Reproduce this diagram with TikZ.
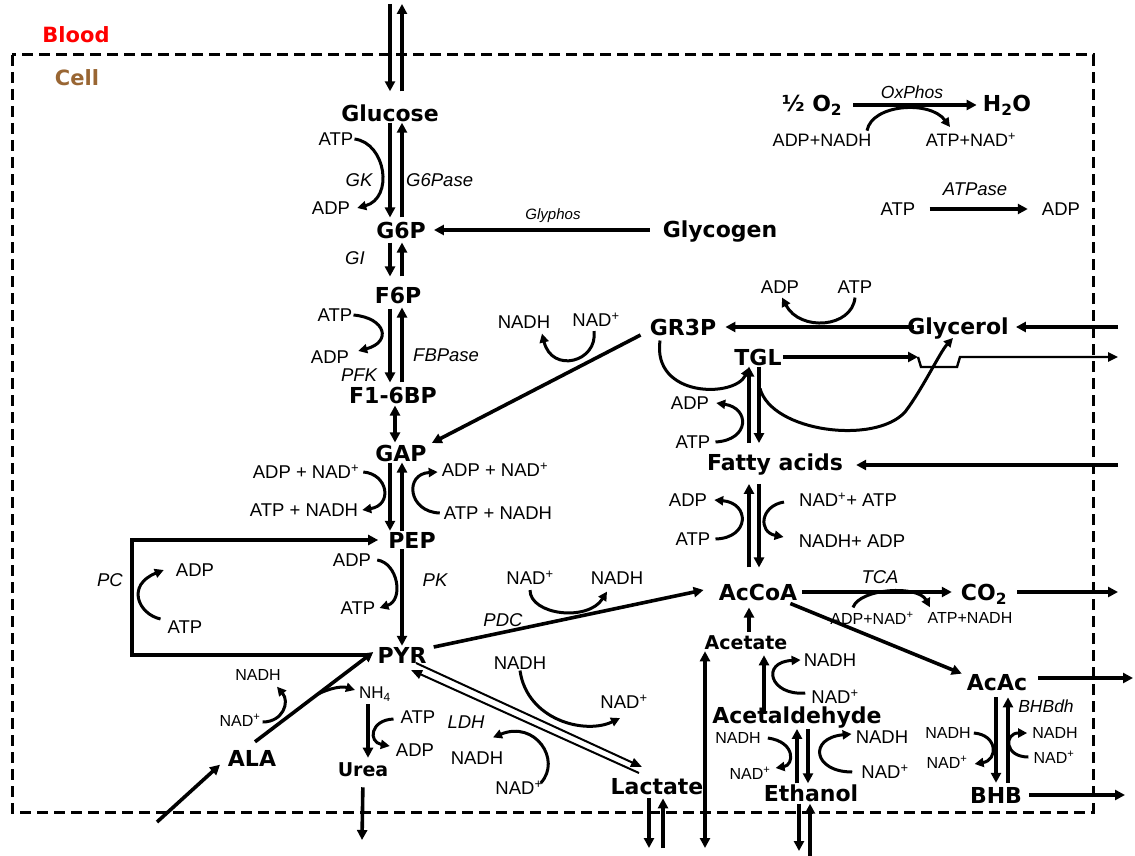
\documentclass[tikz,border=0pt]{standalone}
\usepackage{fontspec}
\setmainfont{Liberation Sans}
\newfontfamily\metf{DejaVu Sans}
\usetikzlibrary{arrows.meta,calc}
\definecolor{cellbrown}{RGB}{153,102,51}
\tikzset{
 met/.style={font=\metf\bfseries\fontsize{22}{22}\selectfont, inner sep=1pt},
 metsm/.style={font=\metf\bfseries\fontsize{19}{19}\selectfont, inner sep=1pt},
 lab/.style={font=\fontsize{18.5}{18.5}\selectfont, inner sep=1pt},
 mid/.style={font=\fontsize{18}{18}\selectfont, inner sep=1pt},
 sm/.style={font=\fontsize{16}{16}\selectfont, inner sep=1pt},
 enz/.style={font=\itshape\fontsize{18.5}{18.5}\selectfont, inner sep=1pt},
 enzmid/.style={font=\itshape\fontsize{17.5}{17.5}\selectfont, inner sep=1pt},
 enzsm/.style={font=\itshape\fontsize{15}{15}\selectfont, inner sep=1pt},
 ar/.style={line width=3.6pt, -{Triangle[length=10pt,width=10pt]}},
 artwo/.style={line width=3.6pt, {Triangle[length=10pt,width=10pt]}-{Triangle[length=10pt,width=10pt]}},
 cv/.style={line width=3pt, -{Triangle[length=9pt,width=9pt]}},
 dl/.style={line width=2pt, -{Triangle[length=11pt,width=9pt]}},
 border/.style={line width=3pt, dash pattern=on 11pt off 6pt}
}
\begin{document}
\begin{tikzpicture}[x=1pt,y=-1pt]
\useasboundingbox (0,0) rectangle (1135,856);
\fill[white] (0,0) rectangle (1135,856);
\draw[border] (12,55) rectangle (1093,812);

% ---------- nodes ----------
\node[met,text=red,font=\metf\bfseries\fontsize{21}{21}\selectfont] (blood) at (76,35) {Blood};
\node[met,text=cellbrown,font=\metf\bfseries\fontsize{21}{21}\selectfont] (cell) at (77,78) {Cell};

\node[met] (glc) at (390,113) {Glucose};
\node[met] (g6p) at (401,230) {G6P};
\node[met] (glyc) at (720,232) {Glycogen};
\node[met] (f6p) at (398,296) {F6P};
\node[met] (fbp) at (393,395) {F1-6BP};
\node[met] (gap) at (401,453) {GAP};
\node[met] (pep) at (412,540) {PEP};
\node[met] (pyr) at (402,655) {PYR};
\node[met] (ala) at (252,758) {ALA};
\node[metsm] (urea) at (363,770) {Urea};
\node[met] (lac) at (657,787) {Lactate};
\node[met] (gr3p) at (683,327) {GR3P};
\node[met] (glol) at (958,329) {Glycerol};
\node[met] (tgl) at (758,357) {TGL};
\node[met] (fa) at (775,465) {Fatty acids};
\node[met] (accoa) at (758,592) {AcCoA};
\node[met] (co2) at (984,594) {CO\textsubscript{2}};
\node[met] (acac) at (997,683) {AcAc};
\node[met] (bhb) at (996,795) {BHB};
\node[metsm] (acet) at (746,643) {Acetate};
\node[met] (acald) at (797,718) {Acetaldehyde};
\node[met] (etoh) at (811,793) {Ethanol};
\node[met] (o2) at (812,105) {½ O\textsubscript{2}};
\node[met] (h2o) at (1007,105) {H\textsubscript{2}O};

\node[lab] (atp1) at (336,139) {ATP};
\node[enz] (gk) at (359,180) {GK};
\node[lab] (adp1) at (331,208) {ADP};
\node[enz,anchor=west] (g6pase) at (405,180) {G6Pase};
\node[enzsm] (glyphos) at (553,216) {Glyphos};
\node[enz] (gi) at (355,258) {GI};
\node[lab] (atp2) at (335,315) {ATP};
\node[lab] (adp2) at (330,357) {ADP};
\node[enz] (pfk) at (359,375) {PFK};
\node[enz,anchor=west] (fbpase) at (412,355) {FBPase};
\node[lab] (adpnad1) at (306,472) {ADP + NAD\textsuperscript{+}};
\node[lab] (atpnadh1) at (304,510) {ATP + NADH};
\node[lab] (adpnad2) at (495,470) {ADP + NAD\textsuperscript{+}};
\node[lab] (atpnadh2) at (498,513) {ATP + NADH};
\node[enz] (pc) at (110,580) {PC};
\node[lab] (adp3) at (195,570) {ADP};
\node[lab] (atp3) at (185,627) {ATP};
\node[lab] (adp4) at (352,560) {ADP};
\node[lab] (atp4) at (358,608) {ATP};
\node[enz] (pk) at (435,580) {PK};
\node[lab] (nad5) at (530,578) {NAD\textsuperscript{+}};
\node[lab] (nadh5) at (617,578) {NADH};
\node[enz] (pdc) at (503,620) {PDC};
\node[lab] (nadh6) at (520,663) {NADH};
\node[lab] (nad6) at (624,702) {NAD\textsuperscript{+}};
\node[enz] (ldh) at (466,722) {LDH};
\node[lab] (nadh7) at (477,758) {NADH};
\node[lab] (nad7) at (519,788) {NAD\textsuperscript{+}};
\node[sm] (nadh8) at (258,675) {NADH};
\node[sm] (nad8) at (240,720) {NAD\textsuperscript{+}};
\node[font=\fontsize{17}{17}\selectfont,inner sep=1pt] (nh4) at (375,694) {NH\textsubscript{4}};
\node[lab] (atp9) at (418,717) {ATP};
\node[lab] (adp9) at (415,750) {ADP};
\node[enzmid] (oxphos) at (912,92) {OxPhos};
\node[mid] (adpnadh) at (822,140) {ADP+NADH};
\node[mid] (atpnad) at (971,140) {ATP+NAD\textsuperscript{+}};
\node[enz] (atpase) at (975,189) {ATPase};
\node[lab] (atp10) at (898,209) {ATP};
\node[lab] (adp10) at (1061,209) {ADP};
\node[lab] (adp11) at (780,287) {ADP};
\node[lab] (atp11) at (855,287) {ATP};
\node[lab] (nadh12) at (524,322) {NADH};
\node[lab] (nad12) at (596,320) {NAD\textsuperscript{+}};
\node[lab] (adp13) at (690,403) {ADP};
\node[lab] (atp13) at (693,442) {ATP};
\node[lab] (adp14) at (688,500) {ADP};
\node[lab] (atp14) at (693,539) {ATP};
\node[lab] (nadatp) at (848,500) {NAD\textsuperscript{+}+ ATP};
\node[lab] (nadhadp) at (852,541) {NADH+ ADP};
\node[enz] (tca) at (880,577) {TCA};
\node[sm] (adpnad15) at (872,618) {ADP+NAD\textsuperscript{+}};
\node[sm] (atpnadh15) at (970,618) {ATP+NADH};
\node[lab] (nadh16) at (830,660) {NADH};
\node[lab] (nad16) at (835,697) {NAD\textsuperscript{+}};
\node[sm] (nadh17) at (738,738) {NADH};
\node[sm] (nad17) at (750,773) {NAD\textsuperscript{+}};
\node[lab] (nadh18) at (882,737) {NADH};
\node[lab] (nad18) at (885,772) {NAD\textsuperscript{+}};
\node[enzmid] (bhbdh) at (1046,706) {BHBdh};
\node[sm] (nadh19) at (948,733) {NADH};
\node[sm] (nad19) at (947,762) {NAD\textsuperscript{+}};
\node[sm] (nadh20) at (1055,733) {NADH};
\node[sm] (nad20) at (1054,757) {NAD\textsuperscript{+}};

% ---------- helper coordinates ----------
\coordinate (xa) at (390,0); \coordinate (xb) at (402,0); \coordinate (xm) at (395,0);
\coordinate (bt1) at (390,4); \coordinate (bt2) at (402,4);
\coordinate (pcl) at (132,0);
\coordinate (alain) at (157,822);
\coordinate (xu) at (368,0);
\coordinate (ureaout) at (362,840);
\coordinate (lx1) at (649,0); \coordinate (lx2) at (663,0);
\coordinate (lb1) at (649,848); \coordinate (lb2) at (663,848);
\coordinate (xl) at (705,0); \coordinate (acbot) at (705,848);
\coordinate (xac) at (749,0); \coordinate (xald) at (764,0);
\coordinate (xe1) at (797,0); \coordinate (xe2) at (808,0);
\coordinate (eb1) at (799,851); \coordinate (eb2) at (810,856);
\coordinate (xe3) at (799,0); \coordinate (xe4) at (810,0);
\coordinate (gbl) at (1118,327);
\coordinate (bump1) at (918,357); \coordinate (tglout) at (1118,357);
\coordinate (xt1) at (749,0); \coordinate (xt2) at (759,0);
\coordinate (fabl) at (1118,465);
\coordinate (co2out) at (1118,592);
\coordinate (acacout) at (1133,678);
\coordinate (xk1) at (996,0); \coordinate (xk2) at (1008,0);
\coordinate (bhbout) at (1125,795);

% ---------- glycolysis column ----------
\draw[ar,shorten >=12pt] (bt1) -- (glc.north -| xa);
\draw[ar,shorten <=12pt] (glc.north -| xb) -- (bt2);
\draw[ar,shorten >=3pt] (glc.south -| xa) -- (g6p.north -| xa);
\draw[ar,shorten <=3pt] (g6p.north -| xb) -- (glc.south -| xb);
\draw[cv] (atp1.east) .. controls (386,143) and (394,198) .. ($(adp1.east)+(6,0)$);

\draw[ar,shorten <=12pt,shorten >=7pt] (glyc.west |- g6p) -- (g6p.east);

\draw[ar,shorten <=3pt,shorten >=10pt] (g6p.south -| xa) -- (f6p.north -| xa);
\draw[ar,shorten <=10pt,shorten >=3pt] (f6p.north -| xb) -- (g6p.south -| xb);

\draw[ar,shorten <=3pt,shorten >=3pt] (f6p.south -| xa) -- (fbp.north -| xa);
\draw[ar,shorten <=3pt,shorten >=2pt] (fbp.north -| xb) -- (f6p.south -| xb);
\draw[cv] (atp2.east) .. controls (386,318) and (392,342) .. ($(adp2.east)+(8,-6)$);

\draw[artwo,shorten <=1pt,shorten >=1pt] (fbp.south -| xm) -- (gap.north -| xm);

\draw[ar] (gap.south -| xa) -- (pep.north -| xa);
\draw[ar] (pep.north -| xb) -- (gap.south -| xb);
\draw[cv] ($(adpnad1.east)+(3,0)$) .. controls (388,474) and (393,505) .. ($(atpnadh1.east)+(3,0)$);
\draw[cv] ($(atpnadh2.west)+(-3,0)$) .. controls (408,512) and (404,474) .. ($(adpnad2.west)+(-3,2)$);

% PC loop
\draw[ar,shorten <=6pt,shorten >=9pt] (pyr.west) -- (pcl |- pyr) -- (pcl |- pep) -- (pep.west);
\draw[cv] ($(atp3.west)+(-6,-8)$) .. controls (138,614) and (126,585) .. ($(adp3.west)+(-11,0)$);

\draw[ar] (pep.south -| xb) -- (pyr.north -| xb);
\draw[cv] ($(adp4.east)+(5,0)$) .. controls (398,563) and (404,600) .. ($(atp4.east)+(3,0)$);

% PDC
\draw[ar] ($(pyr.east)+(6,-8)$) -- ($(accoa.west)+(-14,-2)$);
\draw[cv] ($(nad5.south)+(0,4)$) .. controls (530,615) and (588,622) .. ($(nadh5.south)+(-10,6)$);

% PYR <-> Lactate
\draw[dl] ($(pyr.center)+(14,8)$) -- ($(lac.center)+(-15,-20)$);
\draw[dl] ($(lac.center)+(-18,-14)$) -- ($(pyr.center)+(9,15)$);
\draw[cv] (nadh6.south) .. controls (527,720) and (585,735) .. ($(nad6.south)+(-4,8)$);
\draw[cv] ($(nad7.east)+(-3,-5)$) .. controls (562,760) and (535,720) .. ($(nadh7.north)+(16,-13)$);

% ALA
\coordinate (alaS) at ($(ala.north)+(3,-7)$);
\coordinate (pyrS) at ($(pyr.west)+(-3,-3)$);
\draw[ar,shorten >=1pt] (alain) -- ($(ala.west)+(-6,6)$);
\draw[ar] (alaS) -- (pyrS);
\draw[cv] ($(nad8.east)+(1,2)$) .. controls (283,722) and (290,702) .. ($(nadh8.south)+(19,5)$);
\draw[cv] ($(alaS)!0.53!(pyrS)$) .. controls (330,688) and (342,686) .. ($(nh4.west)+(-3,-4)$);
\draw[ar,shorten <=2pt,shorten >=4pt] (nh4.south -| xu) -- (urea.north -| xu);
\draw[cv] ($(atp9.west)+(-6,2)$) .. controls (370,720) and (368,742) .. ($(adp9.west)+(-5,-4)$);
\draw[ar,shorten <=9pt] (urea.south) -- (ureaout);

% Lactate exchange
\draw[ar,shorten <=2pt] (lac.south -| lx1) -- (lb1);
\draw[ar,shorten >=2pt] (lb2) -- (lac.south -| lx2);

% Acetate / ethanol
\draw[artwo] (acbot) -- (acet.south -| xl);
\draw[ar,shorten <=3pt,shorten >=6pt] (acet.north -| xac) -- (accoa.south -| xac);
\draw[ar,shorten <=-8pt,shorten >=4pt] (acald.north -| xald) -- (acet.south -| xald);
\draw[cv] ($(nad16.west)+(-5,-4)$) .. controls (770,696) and (760,662) .. ($(nadh16.west)+(-2,0)$);
\draw[ar,shorten >=-1pt] (etoh.north -| xe1) -- (acald.south -| xe1);
\draw[ar,shorten <=-1pt] (acald.south -| xe2) -- (etoh.north -| xe2);
\draw[cv] ($(nadh17.east)+(6,0)$) .. controls (796,742) and (794,765) .. ($(nad17.east)+(4,-5)$);
\draw[cv] ($(nad18.west)+(-8,0)$) .. controls (813,772) and (808,738) .. ($(nadh18.west)+(-3,-3)$);
\draw[ar,shorten <=1pt] (etoh.south -| xe3) -- (eb1);
\draw[ar,shorten >=1pt] (eb2) -- (etoh.south -| xe4);

% Glycerol / GR3P / TGL
\draw[ar,shorten <=-8pt,shorten >=8pt] (glol.west |- gr3p) -- (gr3p.east);
\draw[cv] ($(atp11.south)+(0,3)$) .. controls (852,328) and (800,332) .. ($(adp11.south)+(2,3)$);
\draw[ar,shorten >=6pt] (gbl) -- (glol.east |- gr3p);
\draw[ar] ($(gr3p.west)+(-8,8)$) -- ($(gap.east)+(4,-10)$);
\draw[cv] ($(nad12.south)+(-2,3)$) .. controls (598,362) and (552,374) .. ($(nadh12.south)+(18,4)$);
\draw[cv] ($(gr3p.south)+(-23,4)$) .. controls (652,398) and (735,398) .. ($(tgl.south -| xt1)+(0,1)$);
\draw[ar] (tgl.east) -- (bump1);
\draw[line width=2.4pt, -{Triangle[length=10pt,width=9pt]}] (bump1) -- ++(3,10) -- ++(36,0) -- ++(3,-10) -- (tglout);
\draw[ar,shorten <=10pt] (fa.north -| xt1) -- (tgl.south -| xt1);
\draw[ar,shorten >=10pt] (tgl.south -| xt2) -- (fa.north -| xt2);
\draw[cv] ($(atp13.east)+(4,0)$) .. controls (750,440) and (750,408) .. ($(adp13.east)+(6,0)$);
\draw[cv] ($(tgl.south -| xt2)+(1,22)$) .. controls (772,432) and (875,445) .. (905,412) .. controls (922,390) and (940,352) .. ($(glol.south)+(-5,-3)$);
\draw[ar,shorten >=12pt] (fabl) -- (fa.east);

% Fatty acids <-> AcCoA
\draw[ar,shorten <=15pt,shorten >=7pt] (accoa.north -| xt1) -- (fa.south -| xt1);
\draw[ar,shorten <=7pt,shorten >=15pt] (fa.south -| xt2) -- (accoa.north -| xt2);
\draw[cv] ($(atp14.east)+(4,0)$) .. controls (750,538) and (750,503) .. ($(adp14.east)+(6,0)$);
\draw[cv] ($(nadatp.west)+(-14,2)$) .. controls (760,506) and (758,532) .. ($(nadhadp.west)+(-14,-4)$);

% AcCoA -> CO2, AcAc
\draw[ar,shorten <=4pt,shorten >=8pt] (accoa.east) -- (co2.west |- accoa.east);
\draw[ar,shorten <=9pt] (co2.east |- accoa.east) -- (co2out);
\draw[cv] ($(adpnad15.north)+(-19,-3)$) .. controls (860,588) and (918,585) .. ($(atpnadh15.north)+(-40,-4)$);
\draw[ar] ($(accoa.south east)+(-8,2)$) -- ($(acac.north west)+(-4,0)$);
\draw[ar,shorten <=10pt] (acac.east |- acacout) -- (acacout);

% AcAc <-> BHB
\draw[ar,shorten <=5pt,shorten >=3pt] (acac.south -| xk1) -- (bhb.north -| xk1);
\draw[ar,shorten <=3pt,shorten >=5pt] (bhb.north -| xk2) -- (acac.south -| xk2);
\draw[cv] ($(nadh19.east)+(2,0)$) .. controls (998,735) and (998,760) .. ($(nad19.east)+(6,2)$);
\draw[cv] ($(nad20.west)+(-4,0)$) .. controls (1004,757) and (1004,733) .. ($(nadh20.west)+(-4,0)$);
\draw[ar,shorten <=6pt] (bhb.east) -- (bhbout);

% OxPhos, ATPase
\draw[ar,shorten <=10pt,shorten >=5pt] (o2.east) -- (h2o.west |- o2.east);
\draw[cv] ($(adpnadh.north)+(45,-2)$) .. controls (872,104) and (930,100) .. ($(atpnad.north)+(-21,-5)$);
\draw[ar,shorten <=13pt,shorten >=13pt] (atp10.east) -- (adp10.west);
\end{tikzpicture}
\end{document}
